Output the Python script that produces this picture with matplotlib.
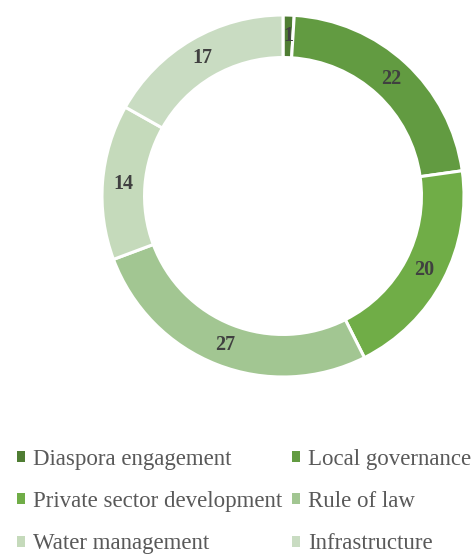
import matplotlib.pyplot as plt
from matplotlib.patches import Patch
import numpy as np

categories = ["Diaspora engagement", "Local governance", "Private sector development",
              "Rule of law", "Water management", "Infrastructure"]
values = [1, 22, 20, 27, 14, 17]
colors = ["#4f7d33", "#629b41", "#70ad47", "#a2c692", "#c5dabb", "#c9dcc2"]

plt.rcParams["font.family"] = "Liberation Serif"

fig = plt.figure(figsize=(4.73, 5.55), dpi=100)
W, H = 473, 555
cx, cy, r = 283, 196, 181
ax = fig.add_axes([(cx - r) / W, (H - cy - r) / H, 2 * r / W, 2 * r / H])

ring = 0.235
ax.pie(values, colors=colors, startangle=90, counterclock=False, radius=1,
       wedgeprops=dict(width=ring, edgecolor="white", linewidth=2.2))
ax.set_aspect("equal")
ax.set_xlim(-1, 1)
ax.set_ylim(-1, 1)

# value labels in the middle of the ring
total = sum(values)
start = 90.0
mid_r = 1 - ring / 2
for v in values:
    theta = np.deg2rad(start - v / total * 360 / 2)
    ax.text(mid_r * np.cos(theta), mid_r * np.sin(theta), str(v), ha="center", va="center",
            fontsize=14.5, fontweight="bold", color="#404040")
    start -= v / total * 360

# legend is filled row by row: reorder for matplotlib's column-wise layout
order = [0, 2, 4, 1, 3, 5]
handles = [Patch(facecolor=colors[i], edgecolor="none") for i in order]
labels = [categories[i] for i in order]
fig.legend(handles, labels, loc="upper left", bbox_to_anchor=(0.017, 0.208), ncol=2,
           frameon=False, fontsize=16.5, labelcolor="#595959", handlelength=0.35,
           handleheight=0.35, handletextpad=0.35, columnspacing=0.42, labelspacing=0.93,
           borderaxespad=0)

fig.savefig("out.png", dpi=100)
